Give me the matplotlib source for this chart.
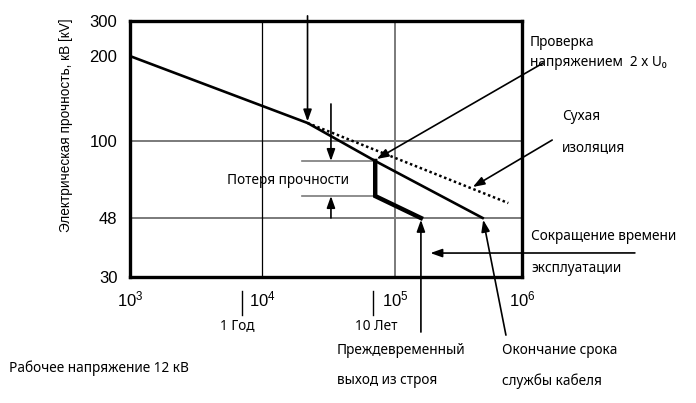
import numpy as np
import matplotlib
matplotlib.use('Agg')
import matplotlib.pyplot as plt

# ----------------------------------------------------------------------------
# Dados (lidos do diagrama)
# ----------------------------------------------------------------------------

# eixo X: tempo (h), eixo Y: rigidez dieletrica (kV)
x_ticks = [1e3, 1e4, 1e5, 1e6]
x_ticklabels = [r'$10^{3}$', r'$10^{4}$', r'$10^{5}$', r'$10^{6}$']
y_ticks = [30, 48, 100, 200, 300]
y_ticklabels = ['30', '48', '100', '200', '300']

# curva principal (isolacao umida)
main_x = [1e3, 2.2e4, 7.1e4, 4.9e5]
main_y = [200, 115.5, 82.4, 48]

# falha prematura apos o ensaio com 2 x U0
early_x = [7.1e4, 7.1e4, 1.6e5]
early_y = [82.4, 59.1, 48]

# isolacao seca (pontilhada)
dry_x = [2.2e4, 7.8e5]
dry_y = [115.5, 55.3]

# marcas "1 Год" e "10 Лет"
year_marks = [7e3, 6.8e4]

# posicao (fracao do eixo) das dezenas no diagrama, que nao e log exato
x_knots_log = [3, 4, 5, 6]
x_knots_pos = [0, 0.3367, 0.676, 1]
y_knots_log = list(np.log10([30, 48, 100, 200, 300]))
y_knots_pos = [0, 0.2305, 0.533, 0.863, 1]

W, H = 696, 403


def piecewise_scale(logs, pos):
    '''
    Escala log "desenhada a mao": interpola por partes entre os rotulos
    e extrapola linearmente fora deles.
    '''
    logs = np.asarray(logs, dtype=float)
    pos = np.asarray(pos, dtype=float)
    s0 = (pos[1] - pos[0]) / (logs[1] - logs[0])
    s1 = (pos[-1] - pos[-2]) / (logs[-1] - logs[-2])

    def fwd(v):
        l = np.log10(np.clip(np.asarray(v, dtype=float), 1e-12, None))
        out = np.interp(l, logs, pos)
        out = np.where(l < logs[0], pos[0] + (l - logs[0]) * s0, out)
        out = np.where(l > logs[-1], pos[-1] + (l - logs[-1]) * s1, out)
        return out

    def inv(p):
        p = np.asarray(p, dtype=float)
        l = np.interp(p, pos, logs)
        l = np.where(p < pos[0], logs[0] + (p - pos[0]) / s0, l)
        l = np.where(p > pos[-1], logs[-1] + (p - pos[-1]) / s1, l)
        return 10 ** l

    return fwd, inv


def fig_px(x, y):
    # pixel (origem no topo) -> fracao da figura
    return x / W, 1 - y / H


plt.rcParams['mathtext.fontset'] = 'custom'
plt.rcParams['mathtext.rm'] = 'Liberation Sans'
plt.rcParams['mathtext.default'] = 'rm'

LABEL_FONT = ['Noto Sans', 'DejaVu Sans']
AX_FONT = ['Liberation Sans', 'DejaVu Sans']

fig = plt.figure(figsize=(W / 100, H / 100), dpi=100)
ax = fig.add_axes([130 / W, 1 - 277 / H, 392 / W, 256 / H])

ax.set_xscale('function', functions=piecewise_scale(x_knots_log, x_knots_pos))
ax.set_yscale('function', functions=piecewise_scale(y_knots_log, y_knots_pos))
ax.set_xlim(1e3, 1e6)
ax.set_ylim(30, 300)

# grade
ax.axhline(100, color='#7a7a7a', lw=1.4, zorder=1)
ax.axhline(48, color='#7a7a7a', lw=1.4, zorder=1)
ax.axvline(1e4, color='black', lw=0.9, zorder=1)
ax.axvline(1e5, color='#7a7a7a', lw=1.4, zorder=1)

# curvas
ax.plot(main_x, main_y, color='black', lw=1.9, solid_joinstyle='miter', zorder=3)
ax.plot(early_x, early_y, color='black', lw=3.2, solid_joinstyle='miter', zorder=3)
ax.plot(dry_x, dry_y, color='black', lw=1.8, ls=(0, (1, 1.1)), zorder=2)

# "Потеря прочности": linhas cinzas
ax.plot([2.0e4, main_x[2]], [early_y[0], early_y[0]], color='#7a7a7a', lw=1.2, zorder=2)
ax.plot([2.0e4, main_x[2]], [early_y[1], early_y[1]], color='#7a7a7a', lw=1.2, zorder=2)

arrow = dict(arrowstyle='-|>,head_length=0.7,head_width=0.25', color='black',
             lw=1.2, shrinkA=0, shrinkB=0)

# setas internas
ax.annotate('', xy=(2.2e4, 117), xytext=(2.2e4, 1.02),
            xycoords='data', textcoords=('data', 'axes fraction'),
            arrowprops=arrow)
ax.annotate('', xy=(3.3e4, early_y[0]), xytext=(3.3e4, 135), arrowprops=arrow)
ax.annotate('', xy=(3.3e4, early_y[1]), xytext=(3.3e4, 48), arrowprops=arrow)

# setas que saem dos textos
ax.annotate('', xy=(7.3e4, 84), xytext=(1.054, 0.836),
            textcoords='axes fraction', arrowprops=arrow)
ax.annotate('', xy=(4.1e5, 64.4), xytext=(1.077, 0.535),
            textcoords='axes fraction', arrowprops=arrow)
ax.annotate('', xy=(1.9e5, 36.3), xytext=(1.288, 0.094),
            textcoords='axes fraction', arrowprops=arrow)
ax.annotate('', xy=(1.6e5, 47.3), xytext=(1.6e5, -0.215),
            textcoords=('data', 'axes fraction'), arrowprops=arrow)
ax.annotate('', xy=(4.95e5, 47.3), xytext=(0.959, -0.227),
            textcoords='axes fraction', arrowprops=arrow)

# marcas de 1 e 10 anos abaixo do eixo
for xm in year_marks:
    ax.plot([xm, xm], [-0.055, -0.148], color='black', lw=1.0,
            transform=ax.get_xaxis_transform(), clip_on=False)

# eixos
for sp in ax.spines.values():
    sp.set_linewidth(2.4)
ax.set_xticks(x_ticks)
ax.set_xticklabels(x_ticklabels)
ax.set_yticks(y_ticks)
ax.set_yticklabels(y_ticklabels)
ax.minorticks_off()
ax.tick_params(axis='both', length=0, labelsize=12)
ax.tick_params(axis='y', pad=9)
ax.tick_params(axis='x', pad=10)
for lab in ax.get_yticklabels():
    lab.set_family(AX_FONT)

fig.text(66 / W, 1 - 125 / H, 'Электрическая прочность, кВ [кV]', rotation=90,
         ha='center', va='center', fontsize=9.8, family=AX_FONT)

# textos
texts = [
    (530, 42, 'Проверка', 'left'),
    (530, 62, 'напряжением  2 x U₀', 'left'),
    (562, 117, 'Сухая', 'left'),
    (562, 148, 'изоляция', 'left'),
    (531, 237, 'Сокращение времени', 'left'),
    (531, 268, 'эксплуатации', 'left'),
    (227, 180, 'Потеря прочности', 'left'),
    (337, 350, 'Преждевременный', 'left'),
    (337, 381, 'выход из строя', 'left'),
    (502, 350, 'Окончание срока', 'left'),
    (502, 381, 'службы кабеля', 'left'),
    (9, 368, 'Рабочее напряжение 12 кВ', 'left'),
    (237, 326, '1 Год', 'center'),
    (376, 326, '10 Лет', 'center'),
]
for x, y, s, ha in texts:
    fx, fy = fig_px(x, y)
    fig.text(fx, fy, s, ha=ha, va='center', fontsize=9.8, family=LABEL_FONT)

fig.savefig('out.png', dpi=100)
